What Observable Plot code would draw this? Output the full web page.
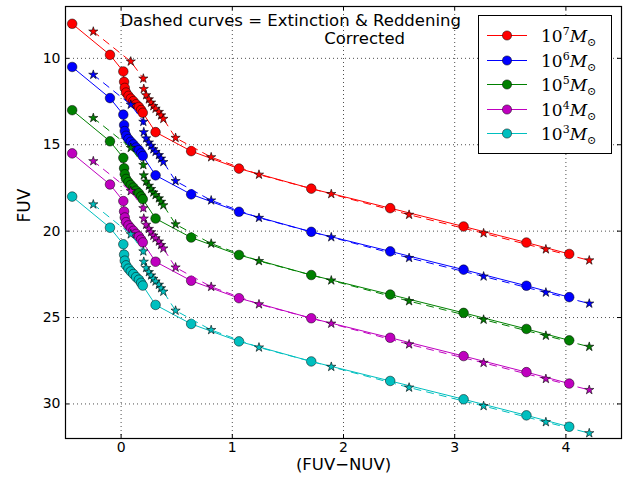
<!DOCTYPE html>
<html>
<head>
<meta charset="utf-8">
<script src="https://cdn.jsdelivr.net/npm/d3@7"></script>
<script src="https://cdn.jsdelivr.net/npm/@observablehq/plot@0.6"></script>
<style>
  html, body { margin: 0; padding: 0; background: #fff; }
  #wrap { position: relative; width: 633px; height: 484px; }
  #legend {
    position: absolute; left: 478px; top: 15px; width: 134px; height: 139px;
    border: 1px solid #000; background: #fff; box-sizing: border-box;
  }
  .row { position: absolute; left: 0; height: 25px; width: 100%; }
  .row svg { position: absolute; left: 8px; top: 0; }
  .row .lab {
    position: absolute; left: 62px; top: 1px; font-family: "DejaVu Serif", "Liberation Serif", serif;
    font-size: 17px; line-height: 25px; color: #000; white-space: nowrap;
  }
  .row .lab sup { font-size: 11px; vertical-align: 0; position: relative; top: -7px; }
  .row .lab sub { font-size: 11px; vertical-align: 0; position: relative; top: 4px; }
</style>
</head>
<body>
<div id="wrap"></div>
<script>
// ---- data ----
const massExponents = ["7", "6", "5", "4", "3"];
const seriesColors = ["#ff0000", "#0000ff", "#008000", "#bf00bf", "#00bfbf"];

const xTicks = [0, 1, 2, 3, 4];
const yTicks = [10, 15, 20, 25, 30];

// (FUV-NUV) of the observed (solid, circles) curves
const xObs = [-0.44, -0.10, 0.02, 0.027, 0.033, 0.045, 0.066, 0.087, 0.11, 0.135, 0.16, 0.18, 0.195, 0.31, 0.63, 1.06, 1.71, 2.42, 3.08, 3.645, 4.03];
// (FUV-NUV) of the corrected (dashed, stars) curves
const xCor = [-0.25, 0.087, 0.2, 0.204, 0.225, 0.25, 0.27, 0.29, 0.31, 0.34, 0.36, 0.38, 0.49, 0.81, 1.24, 1.89, 2.59, 3.26, 3.82, 4.21];

const fuvObs7 = [8.0, 9.8, 10.76, 11.36, 11.71, 11.98, 12.17, 12.33, 12.48, 12.66, 12.81, 12.99, 13.15, 14.27, 15.37, 16.38, 17.54, 18.67, 19.73, 20.66, 21.32];
const fuvObs6 = [10.5, 12.3, 13.26, 13.86, 14.21, 14.48, 14.67, 14.83, 14.98, 15.16, 15.31, 15.49, 15.65, 16.77, 17.87, 18.88, 20.04, 21.17, 22.23, 23.16, 23.82];
const fuvObs5 = [13.0, 14.8, 15.76, 16.36, 16.71, 16.98, 17.17, 17.33, 17.48, 17.66, 17.81, 17.99, 18.15, 19.27, 20.37, 21.38, 22.54, 23.67, 24.73, 25.66, 26.32];
const fuvObs4 = [15.5, 17.3, 18.26, 18.86, 19.21, 19.48, 19.67, 19.83, 19.98, 20.16, 20.31, 20.49, 20.65, 21.77, 22.87, 23.88, 25.04, 26.17, 27.23, 28.16, 28.82];
const fuvObs3 = [18.0, 19.8, 20.76, 21.36, 21.71, 21.98, 22.17, 22.33, 22.48, 22.66, 22.81, 22.99, 23.15, 24.27, 25.37, 26.38, 27.54, 28.67, 29.73, 30.66, 31.32];

const fuvCor7 = [8.45, 10.18, 11.17, 11.77, 12.13, 12.37, 12.56, 12.76, 12.91, 13.1, 13.3, 13.5, 14.6, 15.72, 16.73, 17.85, 19.05, 20.12, 21.05, 21.69];
const fuvCor6 = [10.95, 12.68, 13.67, 14.27, 14.63, 14.87, 15.06, 15.26, 15.41, 15.6, 15.8, 16.0, 17.1, 18.22, 19.23, 20.35, 21.55, 22.62, 23.55, 24.19];
const fuvCor5 = [13.45, 15.18, 16.17, 16.77, 17.13, 17.37, 17.56, 17.76, 17.91, 18.1, 18.3, 18.5, 19.6, 20.72, 21.73, 22.85, 24.05, 25.12, 26.05, 26.69];
const fuvCor4 = [15.95, 17.68, 18.67, 19.27, 19.63, 19.87, 20.06, 20.26, 20.41, 20.6, 20.8, 21.0, 22.1, 23.22, 24.23, 25.35, 26.55, 27.62, 28.55, 29.19];
const fuvCor3 = [18.45, 20.18, 21.17, 21.77, 22.13, 22.37, 22.56, 22.76, 22.91, 23.1, 23.3, 23.5, 24.6, 25.72, 26.73, 27.85, 29.05, 30.12, 31.05, 31.69];

const noteText = ["Dashed curves = Extinction & Reddening", "Corrected"];
const noteX = [1.525, 2.19];
const noteY = [7.83, 8.86];

const xLabel = "(FUV\u2212NUV)";
const yLabel = "FUV";

// ---- build ----
const obsSets = [fuvObs7, fuvObs6, fuvObs5, fuvObs4, fuvObs3];
const corSets = [fuvCor7, fuvCor6, fuvCor5, fuvCor4, fuvCor3];

const marks = [
  Plot.ruleX(xTicks, {x: d => d, stroke: "#000", strokeWidth: 0.7, strokeDasharray: "1,3"}),
  Plot.ruleY(yTicks, {y: d => d, stroke: "#000", strokeWidth: 0.7, strokeDasharray: "1,3"})
];

massExponents.forEach((e, k) => {
  const color = seriesColors[k];
  const obs = xObs.map((x, i) => ({x, y: obsSets[k][i]}));
  const cor = xCor.map((x, i) => ({x, y: corSets[k][i]}));
  marks.push(
    Plot.line(obs, {x: "x", y: "y", stroke: color, strokeWidth: 1}),
    Plot.dot(obs, {x: "x", y: "y", r: 4.8, fill: color, stroke: "#000", strokeWidth: 0.5}),
    Plot.line(cor, {x: "x", y: "y", stroke: color, strokeWidth: 1, strokeDasharray: "7,6"}),
    Plot.dot(cor, {x: "x", y: "y", symbol: "star", r: 2.9, fill: color, stroke: "#000", strokeWidth: 0.6})
  );
});

marks.push(
  Plot.text(noteText.map((t, i) => ({t, x: noteX[i], y: noteY[i]})), {
    x: "x", y: "y", text: "t", fontSize: 16.5, fill: "#000", textAnchor: "middle"
  }),
  Plot.frame({stroke: "#000", strokeWidth: 1.2}),
  // inward ticks on all four sides
  Plot.tickX(xTicks, {x: d => d, insetTop: 428, stroke: "#000"}),
  Plot.tickX(xTicks, {x: d => d, insetBottom: 428, stroke: "#000"}),
  Plot.tickY(yTicks, {y: d => d, insetRight: 552, stroke: "#000"}),
  Plot.tickY(yTicks, {y: d => d, insetLeft: 552, stroke: "#000"}),
  Plot.axisX({ticks: xTicks, tickFormat: d => String(d), tickSize: 0, tickPadding: 4, label: null, fontSize: 14}),
  Plot.axisY({ticks: yTicks, tickFormat: d => String(d), tickSize: 0, tickPadding: 5, label: null, fontSize: 14}),
  Plot.text([xLabel], {frameAnchor: "bottom", dy: 31.5, text: d => d, fontSize: 16.5, fill: "#000"}),
  Plot.text([yLabel], {frameAnchor: "left", dx: -41, text: d => d, fontSize: 17, fill: "#000", rotate: -90})
);

const chart = Plot.plot({
  width: 633,
  height: 484,
  marginLeft: 65,
  marginRight: 12,
  marginTop: 6,
  marginBottom: 46,
  style: {fontFamily: "DejaVu Sans, sans-serif", fontSize: "14px", background: "#fff", color: "#000"},
  x: {domain: [-0.5, 4.5]},
  y: {domain: [7, 32], reverse: true},
  marks
});

const wrap = document.getElementById("wrap");
wrap.appendChild(chart);

// legend
const legend = document.createElement("div");
legend.id = "legend";
massExponents.forEach((e, k) => {
  const row = document.createElement("div");
  row.className = "row";
  row.style.top = (7 + k * 24.6) + "px";
  row.innerHTML =
    `<svg width="42" height="25"><line x1="0" y1="12.5" x2="40" y2="12.5" stroke="${seriesColors[k]}" stroke-width="1"/>` +
    `<circle cx="20" cy="12.5" r="4.6" fill="${seriesColors[k]}" stroke="#000" stroke-width="0.5"/></svg>` +
    `<span class="lab">10<sup>${e}</sup><i>M</i><sub>\u2299</sub></span>`;
  legend.appendChild(row);
});
wrap.appendChild(legend);
</script>
</body>
</html>
